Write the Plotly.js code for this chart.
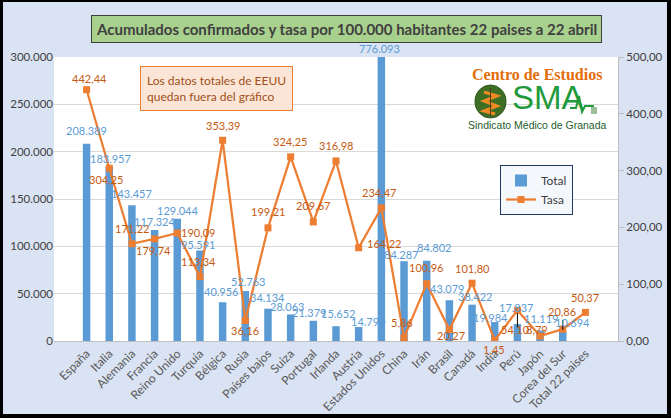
<!DOCTYPE html>
<html>
<head>
<meta charset="utf-8">
<script src="https://cdn.plot.ly/plotly-3.0.1.min.js"></script>
<style>
  html, body { margin: 0; padding: 0; background: #dae3f3; }
  #wrap { position: relative; width: 671px; height: 418px; overflow: hidden; }
  #chart { width: 671px; height: 418px; }
  #frame {
    position: absolute; left: 0; top: 0; right: 0; bottom: 0;
    border-style: solid; border-color: #000;
    border-width: 2px 4px 4px 3px; pointer-events: none;
  }
</style>
</head>
<body>
<div id="wrap">
  <div id="chart"></div>
  <div id="frame"></div>
</div>
<script>
// Países y total acumulado de casos confirmados a 22 de abril
const paises = ['España', 'Italia', 'Alemania', 'Francia', 'Reino Unido', 'Turquía', 'Bélgica',
  'Rusia', 'Países bajos', 'Suiza', 'Portugal', 'Irlanda', 'Austria', 'Estados Unidos', 'China',
  'Irán', 'Brasil', 'Canadá', 'India', 'Perú', 'Japón', 'Corea del Sur', 'Total 22 paises'];

const total = [208389, 183957, 143457, 117324, 129044, 95591, 40956, 52763, 34134, 28063,
  21379, 15652, 14790, 776093, 84287, 84802, 43079, 38422, 19984, 17837, 11119, 10694, null];

// Tasa por 100.000 habitantes
const tasa = [442.44, 304.25, 171.22, 179.74, 190.09, 113.34, 353.39, 36.16, 199.21, 324.25,
  209.67, 316.98, 164.22, 234.47, 5.86, 100.96, 20.27, 101.80, 1.45, 54.10, 8.79, 20.86, 50.37];

const ejeIzqMax = 300000;
const ejeDerMax = 500;

// Desplazamientos (px) de las etiquetas respecto a la barra / al marcador
const barDx = [0, 1, 0, 0, 0, -1, -1, 3, 0, -3, -4, 2, 10, -2, -3, 8, -2, 3, -4, -1, 1, 10, 0];
const barDy = [13, 8, 12, 8, 8, 6, 11, 10, 11, 8, 8, 13, 6, 9, 7, 13, 12, 8, 5, 17, 12, 8, 0];
const tasaDx = [3, -3, 0, -1, 21, -1, 0, 0, 0, -1, 0, 0, 25, -2, -2, -1, 2, 0, -1, -2, -3, -1, 0];
const tasaDy = [11, -11, 15, -12, 1, 15, 15, -10, 16, 15, 16, 15, 4, 15, 15, 16, -6, 15, -9, -19, 7, 18, 15];

const AZUL = '#5b9bd5';
const NARANJA = '#ed7d31';
const NARANJA_TXT = '#c55a11';
const FUENTE = 'Lato, "Liberation Sans", sans-serif';

function miles(v) {
  return String(Math.round(v)).replace(/\B(?=(\d{3})+(?!\d))/g, '.');
}
function decimal(v) {
  return v.toFixed(2).replace('.', ',');
}

// Conversión de píxeles de la figura a coordenadas "paper"
const M = { l: 54, r: 53, t: 57, b: 77 };
const W = 671, H = 418;
const PW = W - M.l - M.r, PH = H - M.t - M.b;
const px = x => (x - M.l) / PW;
const py = y => (H - M.b - y) / PH;

const traces = [
  {
    type: 'bar', name: 'Total', x: paises, y: total,
    marker: { color: AZUL }, hoverinfo: 'x+y'
  },
  {
    type: 'scatter', mode: 'lines+markers', name: 'Tasa', x: paises, y: tasa, yaxis: 'y2',
    line: { color: NARANJA, width: 2.25 },
    marker: { color: NARANJA, symbol: 'square', size: 7 }
  }
];

const annotations = [];
paises.forEach((p, i) => {
  if (total[i] != null) {
    annotations.push({
      x: p, y: Math.min(total[i], ejeIzqMax), xref: 'x', yref: 'y',
      text: miles(total[i]), showarrow: false, xanchor: 'center', yanchor: 'middle',
      xshift: barDx[i], yshift: barDy[i],
      font: { family: FUENTE, size: 11, color: AZUL }
    });
  }
  annotations.push({
    x: p, y: tasa[i], xref: 'x', yref: 'y2',
    text: decimal(tasa[i]), showarrow: false, xanchor: 'center', yanchor: 'middle',
    xshift: tasaDx[i], yshift: tasaDy[i],
    font: { family: FUENTE, size: 11, color: NARANJA_TXT }
  });
});

function nota(x, y, text, font, extra) {
  return Object.assign({
    x: px(x), y: py(y), xref: 'paper', yref: 'paper', showarrow: false,
    xanchor: 'center', yanchor: 'middle', text: text, font: font
  }, extra || {});
}

// Título en recuadro verde
annotations.push(nota(347, 29.5,
  '<b>Acumulados confirmados y tasa por 100.000 habitantes 22 paises a 22 abril</b>',
  { family: FUENTE, size: 15, color: '#404040' },
  { bgcolor: '#a9d18e', bordercolor: '#3f3f3f', borderwidth: 1, borderpad: 4 }));

// Nota sobre EEUU
annotations.push(nota(140, 88.5,
  'Los datos totales de EEUU<br>quedan fuera del gráfico',
  { family: FUENTE, size: 12, color: '#a0501a' },
  { xanchor: 'left', align: 'left', bgcolor: '#fbe5d6', bordercolor: NARANJA, borderwidth: 1, borderpad: 6 }));

// Logotipo: Centro de Estudios - SMA
annotations.push(nota(537, 74, '<b>Centro de Estudios</b>',
  { family: '"Liberation Serif", "DejaVu Serif", serif', size: 16, color: '#e36c0a' }));
annotations.push(nota(548, 97, 'SMA',
  { family: '"Liberation Sans Narrow", "Liberation Sans", sans-serif', size: 33, color: '#1f9a3c' }));
annotations.push(nota(537, 125, 'Sindicato Médico de Granada',
  { family: '"Liberation Sans Narrow", "Liberation Sans", sans-serif', size: 10.5, color: '#1e5b2a' }));

const shapes = [
  // granada del logotipo
  {
    type: 'circle', xref: 'paper', yref: 'paper',
    x0: px(475), x1: px(506), y0: py(118), y1: py(85),
    fillcolor: '#3c6e23', line: { color: '#2c5418', width: 1 }
  },
  {
    type: 'path', xref: 'paper', yref: 'paper',
    path: `M ${px(484)} ${py(92)} L ${px(497)} ${py(96)} L ${px(484)} ${py(101)} L ${px(497)} ${py(106)} L ${px(484)} ${py(111)} L ${px(495)} ${py(114)}`,
    line: { color: '#f08a24', width: 3 }
  },
  {
    type: 'line', xref: 'paper', yref: 'paper',
    x0: px(490.5), x1: px(490.5), y0: py(88), y1: py(116),
    line: { color: '#5a3a1a', width: 1 }
  },
  // trazo de electrocardiograma
  {
    type: 'path', xref: 'paper', yref: 'paper',
    path: `M ${px(570)} ${py(108)} L ${px(576)} ${py(108)} L ${px(579)} ${py(96)} L ${px(582)} ${py(112)} L ${px(585)} ${py(106)} L ${px(594)} ${py(106)}`,
    line: { color: '#1f9a3c', width: 2 }
  },
  {
    type: 'rect', xref: 'paper', yref: 'paper',
    x0: px(591), x1: px(597), y0: py(114), y1: py(107),
    fillcolor: '#9bbf9b', line: { width: 0 }
  },
  // líneas guía de etiquetas
  {
    type: 'line', xref: 'x', yref: 'y', x0: 'Perú', x1: 'Perú',
    ysizemode: 'pixel', yanchor: total[19], y0: -3, y1: 11,
    line: { color: '#000', width: 1 }
  },
  {
    type: 'line', xref: 'x', yref: 'y', x0: 'Corea del Sur', x1: 'Corea del Sur',
    ysizemode: 'pixel', yanchor: total[21], y0: 1, y1: 11,
    line: { color: '#000', width: 1 }
  }
];

const layout = {
  width: W, height: H,
  margin: M,
  paper_bgcolor: '#dae3f3',
  plot_bgcolor: '#ffffff',
  separators: ',.',
  font: { family: FUENTE, color: '#595959' },
  bargap: 0.67,
  showlegend: true,
  legend: {
    x: px(500), y: py(165), xanchor: 'left', yanchor: 'top',
    bgcolor: '#f4f7fc', bordercolor: '#1f3864', borderwidth: 1,
    font: { family: FUENTE, size: 12, color: '#404040' },
    tracegroupgap: 0, itemwidth: 30
  },
  xaxis: {
    type: 'category', tickangle: -45,
    tickfont: { family: FUENTE, size: 12, color: '#595959' },
    showline: true, linecolor: '#bfbfbf', linewidth: 1,
    ticks: '', showgrid: false, fixedrange: true
  },
  yaxis: {
    range: [0, ejeIzqMax], dtick: 50000, tickformat: ',d',
    tickfont: { family: FUENTE, size: 11.5, color: '#404040' },
    showgrid: true, gridcolor: '#d9d9d9', zeroline: false, showline: false,
    ticks: '', fixedrange: true
  },
  yaxis2: {
    overlaying: 'y', side: 'right',
    range: [0, ejeDerMax], dtick: 100, tickformat: ',.2f',
    tickfont: { family: FUENTE, size: 11.5, color: '#404040' },
    showgrid: false, zeroline: false, showline: true, linecolor: '#bfbfbf',
    ticks: 'outside', ticklen: 5, tickcolor: '#bfbfbf', fixedrange: true
  },
  annotations: annotations,
  shapes: shapes
};

Plotly.newPlot('chart', traces, layout, { displayModeBar: false, staticPlot: true });
</script>
</body>
</html>
